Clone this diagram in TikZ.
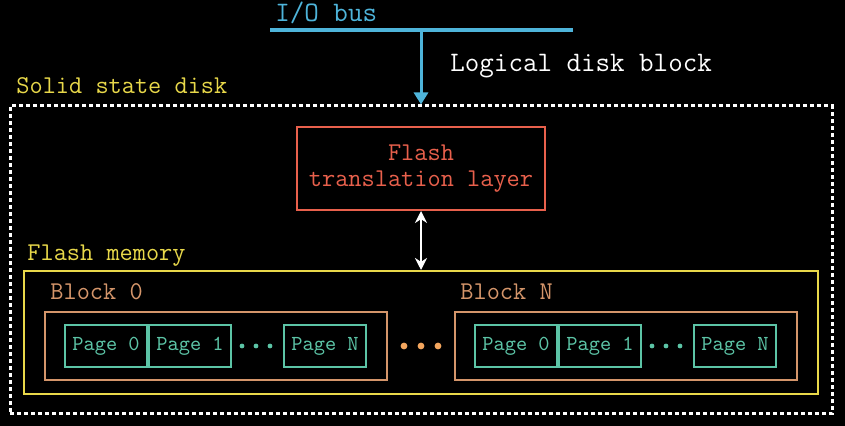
\documentclass[tikz,border=0pt]{standalone}
\usepackage{tikz}
\usetikzlibrary{arrows.meta,positioning}
\definecolor{busblue}{HTML}{4EB4DA}
\definecolor{ssdyellow}{HTML}{E8D84A}
\definecolor{ftlred}{HTML}{E8604C}
\definecolor{blocktan}{HTML}{D4956A}
\definecolor{pagegreen}{HTML}{5CC4A6}
\definecolor{dotorange}{HTML}{F4A65E}
\newcommand{\bigtt}{\ttfamily\fontsize{14.1}{16}\selectfont}
\newcommand{\midtt}{\ttfamily\fontsize{12.8}{13}\selectfont}
\newcommand{\pagett}{\ttfamily\fontsize{10.7}{12}\selectfont}
\tikzstyle{box} = [draw, line width=1pt, inner sep=0pt]
\tikzstyle{page} = [box, draw=pagegreen, text=pagegreen, minimum width=41pt, minimum height=21pt, font=\pagett]
\tikzstyle{blockbox} = [box, draw=blocktan, minimum width=171pt, minimum height=34pt]
\tikzstyle{lbl} = [inner sep=0pt, anchor=west, font=\midtt]

\begin{document}
\begin{tikzpicture}[x=0.5pt,y=-0.5pt]
\fill[black] (0,0) rectangle (845,426);

% bus and incoming block
\coordinate (busl) at (270,30);
\coordinate (busr) at (573,30);
\coordinate (bustap) at (421,30);
\draw[busblue, line width=2pt] (busl) -- (busr);
\node[lbl, font=\bigtt, text=busblue] (buslbl) at (275,13) {I/O bus};

\node[box, draw=white, line width=1.5pt, dash pattern=on 2pt off 1.5pt,
      minimum width=411pt, minimum height=154pt] (ssd) at (421,260) {};
\node[lbl, text=ssdyellow] (ssdlbl) at (16,86) {Solid state disk};
\draw[busblue, line width=1.5pt, -{Triangle[width=7pt,length=6pt]}] (bustap) -- (ssd.north);
\node[lbl, font=\bigtt, text=white] (logical) at (450,66) {Logical disk block};

% translation layer
\node[box, draw=ftlred, text=ftlred, align=center, font=\midtt,
      minimum width=124pt, minimum height=41.5pt] (ftl) at (421,168.5) {Flash\\translation layer};

% flash memory
\node[box, draw=ssdyellow, minimum width=397pt, minimum height=61.5pt] (mem) at (421,332.5) {};
\node[lbl, text=ssdyellow] (memlbl) at (27,256) {Flash memory};
\draw[white, line width=1.3pt, {Stealth[width=6pt,length=6pt]}-{Stealth[width=6pt,length=6pt]}] (ftl.south) -- (mem.north);

\foreach \b/\x/\n in {0/45/0, n/455/N}{
  \node[blockbox] (blk\b) at (\x+171,346) {};
  \node[lbl, text=blocktan] (blk\b-lbl) at (\x+5,292) {Block \n};
  \node[page] (blk\b-p0) at (\x+61,346) {Page 0};
  \node[page, right=0pt of blk\b-p0] (blk\b-p1) {Page 1};
  \node[page] (blk\b-pn) at (\x+280,346) {Page N};
  \foreach \d in {197,211,225}
    \fill[pagegreen] (\x+\d,346) circle (1.2pt);
}
\foreach \d in {404,421,438}
  \fill[dotorange] (\d,346) circle (1.7pt);

\end{tikzpicture}
\end{document}
